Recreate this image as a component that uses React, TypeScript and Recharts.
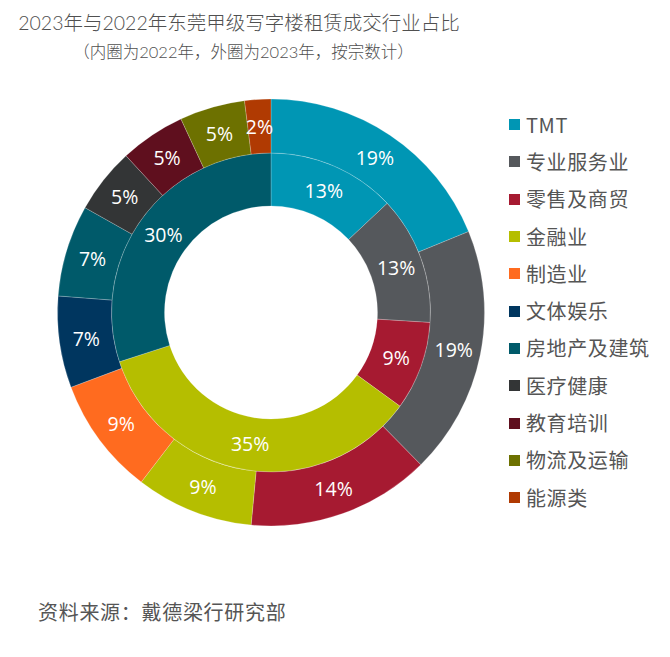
import React from "react";
import { PieChart, Pie, Cell, Legend } from "recharts";

const title = "2023年与2022年东莞甲级写字楼租赁成交行业占比";
const subtitle = "（内圈为2022年，外圈为2023年，按宗数计）";
const source = "资料来源：戴德梁行研究部";

const categories = ["TMT", "专业服务业", "零售及商贸", "金融业", "制造业", "文体娱乐", "房地产及建筑", "医疗健康", "教育培训", "物流及运输", "能源类"];
const colors = ["#0096B4", "#55585C", "#A61A31", "#B5BE00", "#FF6B1F", "#00365F", "#005A6A", "#333536", "#5F0F1E", "#6D7100", "#B03A02"];

const inner2022Names = ["TMT", "专业服务业", "零售及商贸", "金融业", "房地产及建筑"];
const inner2022Values = [13, 13, 9, 35, 30];

const outer2023Names = categories;
const outer2023Values = [19, 19, 14, 9, 9, 7, 7, 5, 5, 5, 2];

const innerData = inner2022Names.map((n, i) => ({ name: n, value: inner2022Values[i] }));
const outerData = outer2023Names.map((n, i) => ({ name: n, value: outer2023Values[i] }));

const colorOf = (n: string) => colors[categories.indexOf(n)];

const RADIAN = Math.PI / 180;
const renderLabel = (p: any) => {
  const r = (p.innerRadius + p.outerRadius) / 2;
  const x = p.cx + r * Math.cos(-p.midAngle * RADIAN);
  const y = p.cy + r * Math.sin(-p.midAngle * RADIAN);
  return (
    <text x={x} y={y} fill="#ffffff" textAnchor="middle" dominantBaseline="central" fontSize={19.5} fontFamily="'Open Sans', 'Noto Sans', sans-serif">
      {p.value + "%"}
    </text>
  );
};

const LegendContent = () => (
  <div style={{ fontFamily: "'Noto Sans CJK SC', sans-serif" }}>
    {categories.map((c, i) => (
      <div key={c} style={{ display: "flex", alignItems: "center", height: 37.3 }}>
        <div style={{ width: 11, height: 11, background: colors[i], marginRight: 6 }} />
        <span style={{ fontSize: 20, letterSpacing: 0.6, color: "#555", lineHeight: "20px" }}>{c}</span>
      </div>
    ))}
  </div>
);

export default function App() {
  return (
    <div style={{ position: "absolute", left: 0, top: 0, width: 670, height: 657, background: "#fff" }}>
      <div style={{ position: "absolute", left: 0, top: 10, width: 478, textAlign: "center", fontFamily: "Lato, 'Noto Sans CJK SC', sans-serif", fontSize: 19.5, fontWeight: 300, color: "#505050", whiteSpace: "nowrap", lineHeight: "26px" }}>
        {title}
      </div>
      <div style={{ position: "absolute", left: 0, top: 41, width: 487, textAlign: "center", fontFamily: "Lato, 'Noto Sans CJK SC', sans-serif", fontSize: 16.5, fontWeight: 300, color: "#505050", whiteSpace: "nowrap", lineHeight: "22px" }}>
        {subtitle}
      </div>
      <div style={{ position: "absolute", left: 38, top: 600, fontFamily: "'Noto Sans CJK SC', sans-serif", fontSize: 20, letterSpacing: 0.7, color: "#555", whiteSpace: "nowrap", lineHeight: "24px" }}>
        {source}
      </div>
      <PieChart width={670} height={657} margin={{ top: 0, left: 0, right: 0, bottom: 0 }}>
        <Pie
          data={innerData}
          dataKey="value"
          nameKey="name"
          cx={271}
          cy={312.5}
          innerRadius={106.5}
          outerRadius={159.5}
          startAngle={90}
          endAngle={-270}
          stroke="rgba(255,255,255,0.35)"
          strokeWidth={0.6}
          label={renderLabel}
          labelLine={false}
          isAnimationActive={false}
        >
          {innerData.map((d) => (
            <Cell key={d.name} fill={colorOf(d.name)} />
          ))}
        </Pie>
        <Pie
          data={outerData}
          dataKey="value"
          nameKey="name"
          cx={271}
          cy={312.5}
          innerRadius={159.5}
          outerRadius={213.5}
          startAngle={90}
          endAngle={-270}
          stroke="rgba(255,255,255,0.35)"
          strokeWidth={0.6}
          label={renderLabel}
          labelLine={false}
          isAnimationActive={false}
        >
          {outerData.map((d) => (
            <Cell key={d.name} fill={colorOf(d.name)} />
          ))}
        </Pie>
        <Legend
          layout="vertical"
          align="right"
          verticalAlign="top"
          content={LegendContent}
          wrapperStyle={{ position: "absolute", left: 509, top: 106, width: 160 }}
        />
      </PieChart>
    </div>
  );
}
